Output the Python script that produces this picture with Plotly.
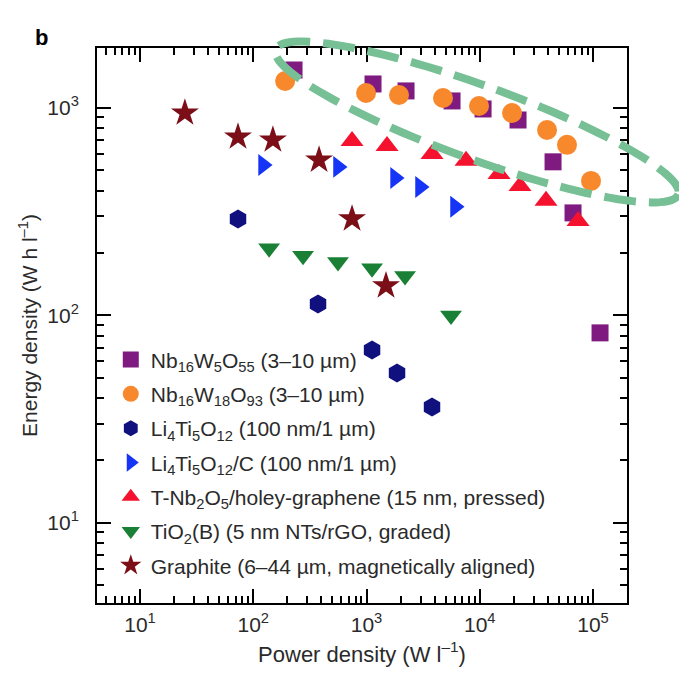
import numpy as np
import plotly.graph_objects as go

# ---------------- data ----------------
nb5_power = [229, 1141, 2233, 5690, 10690, 21770, 44360, 66580, 115300]
nb5_energy = [1524, 1305, 1208, 1081, 989, 875, 550, 312, 82.4]

nb18_power = [191, 990, 1936, 4735, 9850, 19270, 39260, 58900, 96000]
nb18_energy = [1349, 1181, 1155, 1117, 1022, 946, 783, 664, 445]

lto_power = [73.3, 373, 1119, 1859, 3787]
lto_energy = [292, 113.5, 68.2, 52.8, 36.2]

ltoc_power = [122, 560, 1786, 2967, 6045]
ltoc_energy = [531, 520, 460, 416, 334]

tnb_power = [745, 1517, 3787, 7565, 14790, 22660, 38460, 73770]
tnb_energy = [693, 656, 600, 556, 481, 421, 357, 285]

tio2_power = [138, 275, 560, 1119, 2188, 5570]
tio2_energy = [211, 194, 181, 169, 155, 100]

graphite_power = [24.9, 73.3, 149, 381, 745, 1486]
graphite_energy = [946, 725, 701, 561, 292, 139]

series_names = [
    "Nb<sub>16</sub>W<sub>5</sub>O<sub>55</sub> (3–10 µm)",
    "Nb<sub>16</sub>W<sub>18</sub>O<sub>93</sub> (3–10 µm)",
    "Li<sub>4</sub>Ti<sub>5</sub>O<sub>12</sub> (100 nm/1 µm)",
    "Li<sub>4</sub>Ti<sub>5</sub>O<sub>12</sub>/C (100 nm/1 µm)",
    "T-Nb<sub>2</sub>O<sub>5</sub>/holey-graphene (15 nm, pressed)",
    "TiO<sub>2</sub>(B) (5 nm NTs/rGO, graded)",
    "Graphite (6–44 µm, magnetically aligned)",
]

x_tick_vals = [10, 100, 1000, 10000, 100000]
x_tick_text = ["10<sup>1</sup>", "10<sup>2</sup>", "10<sup>3</sup>", "10<sup>4</sup>", "10<sup>5</sup>"]
y_tick_vals = [10, 100, 1000]
y_tick_text = ["10<sup>1</sup>", "10<sup>2</sup>", "10<sup>3</sup>"]

# ---------------- styling ----------------
W, H = 679, 675
ML, MR, MT, MB = 97, 52, 48, 72
FONT = "Liberation Sans, Arial, sans-serif"
TXT = "#2a2a2a"

styles = [
    dict(symbol="square", color="#7E1A80", size=17),
    dict(symbol="circle", color="#F8882C", size=20),
    dict(symbol="hexagon", color="#10107F", size=19),
    dict(symbol="triangle-right", color="#1634F5", size=19),
    dict(symbol="triangle-up", color="#F5122E", size=20),
    dict(symbol="triangle-down", color="#1A8035", size=19),
    dict(symbol="star", color="#7C0E18", size=21),
]

xs = [nb5_power, nb18_power, lto_power, ltoc_power, tnb_power, tio2_power, graphite_power]
ys = [nb5_energy, nb18_energy, lto_energy, ltoc_energy, tnb_energy, tio2_energy, graphite_energy]

fig = go.Figure()
for i, (name, x, y, st) in enumerate(zip(series_names, xs, ys, styles)):
    fig.add_trace(go.Scatter(
        x=x, y=y, mode="markers", name=name, legendgroup=f"g{i}",
        marker=dict(symbol=st["symbol"], color=st["color"], size=st["size"],
                    line=dict(width=0)),
    ))


def minor_vals(lo_exp, hi_exp, lo, hi):
    vals = []
    for e in range(lo_exp, hi_exp + 1):
        for m in range(2, 10):
            v = m * 10 ** e
            if lo <= v <= hi:
                vals.append(v)
    return vals


XR = [0.620, 5.300]
YR = [0.614, 3.289]

axis_common = dict(
    type="log",
    showgrid=False, zeroline=False, showline=True, linecolor="black", linewidth=2,
    mirror="allticks", ticks="inside", ticklen=14, tickwidth=1.5, tickcolor="black",
    tickfont=dict(family=FONT, size=21, color=TXT),
)
minor_common = dict(ticks="inside", ticklen=7, tickwidth=1.5, tickcolor="black", showgrid=False)

fig.update_layout(
    width=W, height=H,
    margin=dict(l=ML, r=MR, t=MT, b=MB),
    paper_bgcolor="white", plot_bgcolor="white",
    font=dict(family=FONT, color=TXT),
    xaxis=dict(range=XR, tickmode="array", tickvals=x_tick_vals, ticktext=x_tick_text,
               ticklabelstandoff=2,
               minor=dict(tickmode="array",
                          tickvals=minor_vals(0, 5, 10 ** XR[0], 10 ** XR[1]), **minor_common),
               title=dict(text="Power density (W l<sup>–1</sup>)",
                          font=dict(family=FONT, size=22, color=TXT), standoff=11),
               **axis_common),
    yaxis=dict(range=YR, tickmode="array", tickvals=y_tick_vals, ticktext=y_tick_text,
               ticklabelstandoff=12,
               minor=dict(tickmode="array",
                          tickvals=minor_vals(0, 3, 10 ** YR[0], 10 ** YR[1]), **minor_common),
               title=dict(text="Energy density (W h l<sup>–1</sup>)",
                          font=dict(family=FONT, size=21, color=TXT), standoff=4),
               **axis_common),
    legend=dict(x=0.026, y=0.475, xanchor="left", yanchor="top",
                bgcolor="rgba(0,0,0,0)", borderwidth=0,
                font=dict(family=FONT, size=21, color=TXT),
                traceorder="grouped", tracegroupgap=4),
    showlegend=True,
)

# panel letter
fig.add_annotation(text="<b>b</b>", xref="paper", yref="paper",
                   x=(33 - ML) / (W - ML - MR), y=(H - MB - 23) / (H - MT - MB),
                   showarrow=False, font=dict(family=FONT, size=22, color="black"))

# dashed highlight ellipse (pixel geometry -> paper coords)
cx, cy, a, b, th = 477, 122, 214, 37, np.deg2rad(19.8)
t = np.linspace(0, 2 * np.pi, 121)
px = cx + a * np.cos(t) * np.cos(th) - b * np.sin(t) * np.sin(th)
py = cy + a * np.cos(t) * np.sin(th) + b * np.sin(t) * np.cos(th)
pw, ph = W - ML - MR, H - MT - MB
xp = (px - ML) / pw
yp = (H - MB - py) / ph
path = "M " + " L ".join(f"{u:.4f},{v:.4f}" for u, v in zip(xp, yp)) + " Z"
fig.add_shape(type="path", path=path, xref="paper", yref="paper",
              line=dict(color="#77C095", width=8, dash="32px,13px"), layer="above")

fig.write_html("out.html")
